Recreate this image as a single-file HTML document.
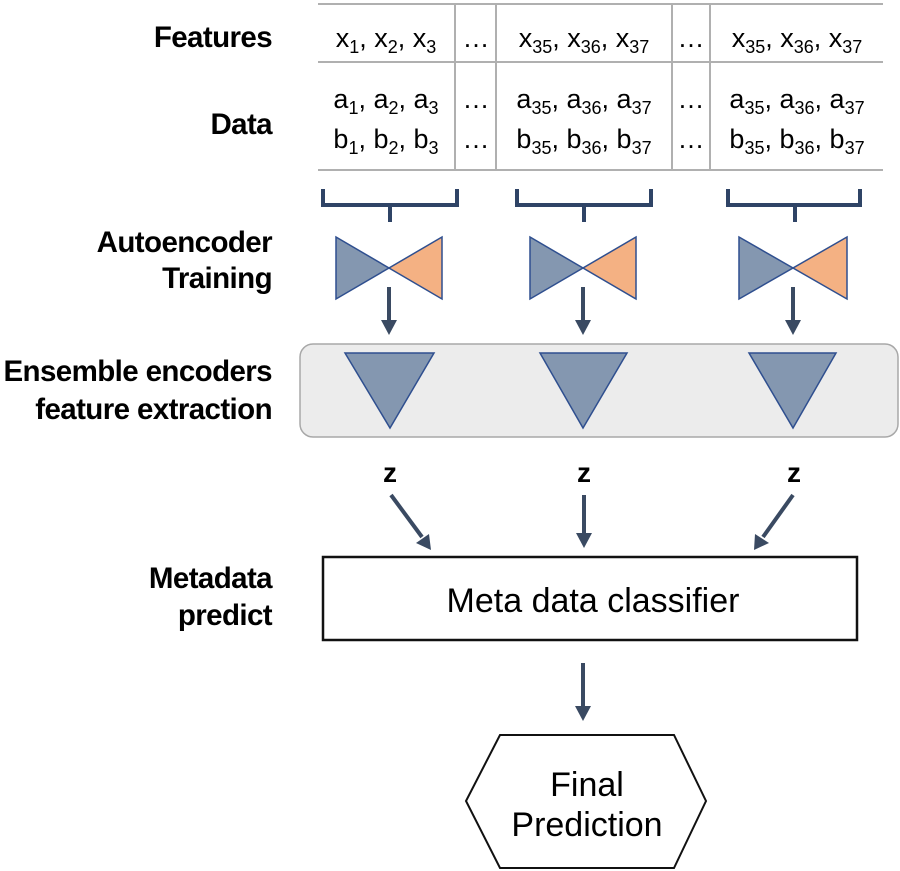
<!DOCTYPE html>
<html><head><meta charset="utf-8"><style>
html,body{margin:0;padding:0;background:#fff;}
svg{display:block;}
text{font-family:"Liberation Sans","Noto Sans CJK KR",sans-serif;}
.lb{font-weight:bold;font-size:29.5px;fill:#000;text-anchor:end;letter-spacing:-0.6px;}
.tx{font-size:27px;fill:#000;text-anchor:middle;}
.sb{font-size:18px;}
.ar{stroke:#3a4a62;stroke-width:4;fill:none;}
.ah{fill:#3a4a62;}
.bl{fill:#8497b0;stroke:#2f4f8f;stroke-width:1.5;}
.or{fill:#f4b183;stroke:#2f4f8f;stroke-width:1.5;}
</style></head><body>
<svg width="900" height="871" viewBox="0 0 900 871" xmlns="http://www.w3.org/2000/svg">
<text class="lb" x="272" y="47">Features</text>
<text class="lb" x="272" y="134">Data</text>
<text class="lb" x="272" y="252">Autoencoder</text>
<text class="lb" x="272" y="288">Training</text>
<text class="lb" x="272" y="381">Ensemble encoders</text>
<text class="lb" x="272" y="419">feature extraction</text>
<text class="lb" x="272" y="588">Metadata</text>
<text class="lb" x="272" y="625">predict</text>

<g stroke="#b0b0b0" stroke-width="2">
<line x1="318" y1="4" x2="883" y2="4"/>
<line x1="318" y1="62" x2="883" y2="62"/>
<line x1="318" y1="170" x2="883" y2="170"/>
<line x1="455" y1="4" x2="455" y2="170"/>
<line x1="496" y1="4" x2="496" y2="170"/>
<line x1="672" y1="4" x2="672" y2="170"/>
<line x1="710" y1="4" x2="710" y2="170"/>
</g>
<text class="tx" x="386" y="47">x<tspan class="sb" dy="6">1</tspan><tspan dy="-6">, x</tspan><tspan class="sb" dy="6">2</tspan><tspan dy="-6">, x</tspan><tspan class="sb" dy="6">3</tspan></text>
<text class="tx" x="476" y="47">…</text>
<text class="tx" x="584" y="47">x<tspan class="sb" dy="6">35</tspan><tspan dy="-6">, x</tspan><tspan class="sb" dy="6">36</tspan><tspan dy="-6">, x</tspan><tspan class="sb" dy="6">37</tspan></text>
<text class="tx" x="691" y="47">…</text>
<text class="tx" x="797" y="47">x<tspan class="sb" dy="6">35</tspan><tspan dy="-6">, x</tspan><tspan class="sb" dy="6">36</tspan><tspan dy="-6">, x</tspan><tspan class="sb" dy="6">37</tspan></text>
<text class="tx" x="386" y="108">a<tspan class="sb" dy="6">1</tspan><tspan dy="-6">, a</tspan><tspan class="sb" dy="6">2</tspan><tspan dy="-6">, a</tspan><tspan class="sb" dy="6">3</tspan></text>
<text class="tx" x="476" y="108">…</text>
<text class="tx" x="584" y="108">a<tspan class="sb" dy="6">35</tspan><tspan dy="-6">, a</tspan><tspan class="sb" dy="6">36</tspan><tspan dy="-6">, a</tspan><tspan class="sb" dy="6">37</tspan></text>
<text class="tx" x="691" y="108">…</text>
<text class="tx" x="797" y="108">a<tspan class="sb" dy="6">35</tspan><tspan dy="-6">, a</tspan><tspan class="sb" dy="6">36</tspan><tspan dy="-6">, a</tspan><tspan class="sb" dy="6">37</tspan></text>
<text class="tx" x="386" y="148">b<tspan class="sb" dy="6">1</tspan><tspan dy="-6">, b</tspan><tspan class="sb" dy="6">2</tspan><tspan dy="-6">, b</tspan><tspan class="sb" dy="6">3</tspan></text>
<text class="tx" x="476" y="148">…</text>
<text class="tx" x="584" y="148">b<tspan class="sb" dy="6">35</tspan><tspan dy="-6">, b</tspan><tspan class="sb" dy="6">36</tspan><tspan dy="-6">, b</tspan><tspan class="sb" dy="6">37</tspan></text>
<text class="tx" x="691" y="148">…</text>
<text class="tx" x="797" y="148">b<tspan class="sb" dy="6">35</tspan><tspan dy="-6">, b</tspan><tspan class="sb" dy="6">36</tspan><tspan dy="-6">, b</tspan><tspan class="sb" dy="6">37</tspan></text>

<g stroke="#2f4466" stroke-width="4" fill="none">
<path d="M323 189 V205 H457 V189 M390 205 V222"/>
<path d="M517 189 V205 H651 V189 M584 205 V222"/>
<path d="M728 189 V205 H860 V189 M795 205 V222"/>
</g>

<polygon class="bl" points="336,237 389,268 336,299"/>
<polygon class="or" points="442,237 389,268 442,299"/>
<polygon class="bl" points="530,237 583,268 530,299"/>
<polygon class="or" points="636,237 583,268 636,299"/>
<polygon class="bl" points="739,237 793,268 739,299"/>
<polygon class="or" points="847,237 793,268 847,299"/>

<line class="ar" x1="389" y1="287" x2="389" y2="323"/><polygon class="ah" points="381,320 397,320 389,335"/>
<line class="ar" x1="583" y1="287" x2="583" y2="323"/><polygon class="ah" points="575,320 591,320 583,335"/>
<line class="ar" x1="793" y1="287" x2="793" y2="323"/><polygon class="ah" points="785,320 801,320 793,335"/>

<rect x="300" y="344" width="598" height="93" rx="13" fill="#ececec" stroke="#a8a8a8" stroke-width="1.5"/>
<polygon class="bl" points="345,353 434,353 390,428"/>
<polygon class="bl" points="540,353 627,353 583,428"/>
<polygon class="bl" points="749,353 836,353 793,428"/>

<g font-weight="bold" font-size="28" text-anchor="middle">
<text x="390" y="482">z</text>
<text x="584" y="482">z</text>
<text x="794" y="482">z</text>
</g>
<line class="ar" x1="391" y1="495" x2="422" y2="537"/><polygon class="ah" points="416,543 431,550 429,534"/>
<line class="ar" x1="584" y1="495" x2="584" y2="535"/><polygon class="ah" points="576,533 592,533 584,548"/>
<line class="ar" x1="793" y1="495" x2="763" y2="537"/><polygon class="ah" points="755,534 754,550 769,543"/>

<rect x="323" y="557" width="534" height="83" fill="#fff" stroke="#111" stroke-width="2.5"/>
<text x="593" y="612" font-size="34" text-anchor="middle">Meta data classifier</text>

<line class="ar" x1="583" y1="663" x2="583" y2="708"/><polygon class="ah" points="575,706 591,706 583,721"/>

<polygon points="500,735 674,735 706,801 674,868 500,868 466,801" fill="#fff" stroke="#111" stroke-width="2"/>
<text x="587" y="796" font-size="34" text-anchor="middle">Final</text>
<text x="587" y="836" font-size="34" text-anchor="middle">Prediction</text>
</svg>
</body></html>
